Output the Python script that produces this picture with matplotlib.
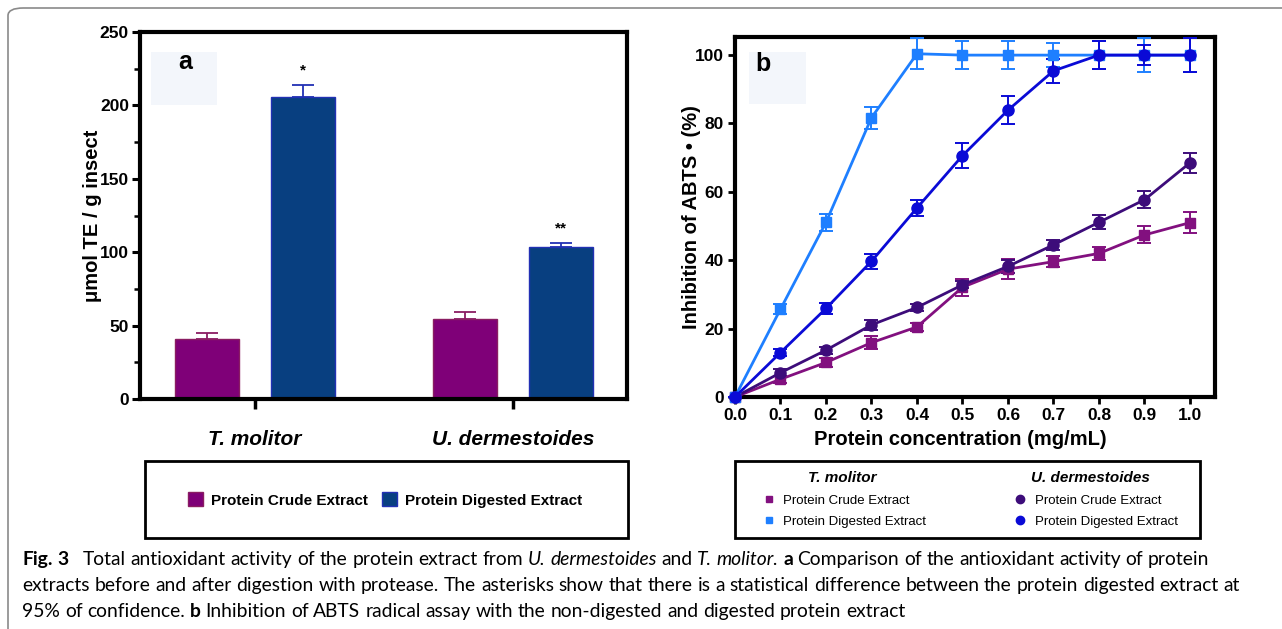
import numpy as np
import matplotlib
matplotlib.use("Agg")
import matplotlib.pyplot as plt
from matplotlib.patches import Rectangle, FancyBboxPatch
from matplotlib.lines import Line2D

# ---- data, panel a
species = ["T. molitor", "U. dermestoides"]
crude_a = [41, 54.5]
crude_a_err = [4, 4.5]
digest_a = [206, 103.5]
digest_a_err = [8, 3]
stars = ["*", "**"]

# ---- data, panel b
conc = [0.0, 0.1, 0.2, 0.3, 0.4, 0.5, 0.6, 0.7, 0.8, 0.9, 1.0]
tm_crude = [0, 5.2, 10.1, 15.9, 20.5, 32.1, 37.4, 39.6, 42.0, 47.4, 51.0]
tm_crude_err = [0, 1.0, 1.2, 2.0, 1.2, 2.5, 3.0, 1.5, 2.0, 2.5, 3.0]
tm_dig = [0, 25.7, 51.1, 81.7, 100.4, 100, 100, 100, 100, 100, 100]
tm_dig_err = [0, 1.5, 2.5, 3.2, 4.5, 4.2, 4.0, 3.6, 4.0, 5.0, 5.0]
ud_crude = [0, 7.1, 13.7, 21.1, 26.2, 32.8, 38.2, 44.5, 51.1, 57.7, 68.5]
ud_crude_err = [0, 1.0, 1.0, 1.5, 1.0, 1.0, 2.0, 1.5, 2.0, 2.5, 3.0]
ud_dig = [0, 13.0, 25.9, 39.7, 55.3, 70.6, 83.9, 95.4, 100, 100, 100]
ud_dig_err = [0, 1.0, 1.6, 2.2, 2.3, 3.6, 4.0, 3.6, 4.0, 3.0, 5.0]

SANS = "Liberation Sans"
CAP = "Lato"

W, H = 1282, 629
fig = plt.figure(figsize=(W / 100, H / 100), dpi=100)
fig.patch.set_facecolor("white")

def fx(px):
    return px / W

def fy(py):
    return 1 - py / H

# outer rounded frame
fig.patches.append(FancyBboxPatch((fx(8), fy(660)), fx(1320), fy(8) - fy(660),
                                  boxstyle="round,pad=0,rounding_size=0.012",
                                  transform=fig.transFigure, fc="none",
                                  ec="#8a8a8a", lw=1.2))

c_crude, c_dig = "#7f0078", "#083f80"
e_crude, e_dig = "#8a1d62", "#2230b4"

# ================= panel a
axa = fig.add_axes([fx(140), fy(399), fx(627 - 140), fy(32) - fy(399)])
x = np.arange(len(species))
off, bw = 0.187, 0.248
axa.bar(x - off, crude_a, bw, color=c_crude, edgecolor=e_crude, lw=1, zorder=2)
axa.bar(x + off, digest_a, bw, color=c_dig, edgecolor=e_dig, lw=1, zorder=2)
axa.errorbar(x - off, crude_a, yerr=[np.zeros(2), crude_a_err], fmt="none",
             ecolor=e_crude, elinewidth=1.3, capsize=8, capthick=1.3, zorder=1)
axa.errorbar(x + off, digest_a, yerr=[np.zeros(2), digest_a_err], fmt="none",
             ecolor=e_dig, elinewidth=1.3, capsize=8, capthick=1.3, zorder=1)
for i in range(len(species)):
    axa.text(x[i] + off, digest_a[i] + digest_a_err[i] + 5, stars[i], ha="center",
             va="bottom", fontsize=11, weight="bold", family=SANS)
axa.set_xlim(-0.446, 1.442)
axa.set_ylim(0, 250)
axa.set_yticks(np.arange(0, 251, 50))
axa.set_yticks(np.arange(25, 250, 50), minor=True)
axa.set_xticks(x)
axa.set_xticklabels(species, fontsize=15, weight="bold", style="italic", family=SANS)
axa.tick_params(axis="x", length=7, width=2.5, pad=15)
axa.tick_params(axis="y", which="major", length=6, width=2.2, labelsize=12.5, pad=2)
axa.tick_params(axis="y", which="minor", length=4, width=1.8)
for lab in axa.get_yticklabels():
    lab.set_family(SANS)
    lab.set_weight("bold")
for s in axa.spines.values():
    s.set_linewidth(3)
axa.set_ylabel("\u03bcmol TE / g insect", fontsize=14.5, weight="bold", family=SANS)
axa.yaxis.set_label_coords(-0.078, 0.5)
axa.add_patch(Rectangle((fx(151), fy(105)), fx(66), fy(52) - fy(105), transform=fig.transFigure,
                        fc="#f3f6fb", ec="none", zorder=0))
fig.text(fx(185), fy(62), "a", fontsize=18, weight="bold", family=SANS, ha="center", va="center")

# ================= panel b
axb = fig.add_axes([fx(735), fy(397), fx(1215 - 735), fy(37) - fy(397)])
series = [
    (tm_crude, tm_crude_err, "#82107f", "s", 6.5),
    (ud_crude, ud_crude_err, "#3d0c7a", "o", 8),
    (tm_dig, tm_dig_err, "#1e7fff", "s", 6.5),
    (ud_dig, ud_dig_err, "#0a0ad6", "o", 8),
]
for yv, ye, col, mk, ms in series:
    axb.errorbar(conc, yv, yerr=ye, color=col, marker=mk, ms=ms, lw=2,
                 elinewidth=1.4, capsize=5, capthick=1.4, clip_on=False, zorder=3)
axb.set_xlim(0, 1.055)
axb.set_ylim(0, 105.3)
axb.set_xticks(conc)
axb.set_xticklabels(["%.1f" % c for c in conc])
axb.set_yticks(np.arange(0, 101, 20))
axb.tick_params(length=5, width=2, labelsize=12.5, pad=3)
for lab in axb.get_xticklabels() + axb.get_yticklabels():
    lab.set_family(SANS)
    lab.set_weight("bold")
for s in axb.spines.values():
    s.set_linewidth(3)
axb.set_xlabel("Protein concentration (mg/mL)", fontsize=14.5, weight="bold", family=SANS)
axb.xaxis.set_label_coords(0.47, -0.092)
axb.set_ylabel("Inhibition of ABTS \u2022 (%)", fontsize=14.5, weight="bold", family=SANS)
axb.yaxis.set_label_coords(-0.071, 0.5)
axb.add_patch(Rectangle((fx(749), fy(104)), fx(57), fy(52) - fy(104), transform=fig.transFigure,
                        fc="#f3f6fb", ec="none", zorder=0))
fig.text(fx(763), fy(64), "b", fontsize=18, weight="bold", family=SANS, ha="center", va="center")

# ================= legend boxes
for x0, x1 in [(145, 628), (735, 1200)]:
    fig.patches.append(Rectangle((fx(x0), fy(538)), fx(x1 - x0), fy(461) - fy(538),
                                 transform=fig.transFigure, fc="none", ec="black", lw=2))

ha_a = [Rectangle((0, 0), 1, 1, fc=c_crude, ec=e_crude),
        Rectangle((0, 0), 1, 1, fc=c_dig, ec=e_dig)]
fig.legend(ha_a, ["Protein Crude Extract", "Protein Digested Extract"], loc="center",
           bbox_to_anchor=(fx(385), fy(500)), ncol=2, frameon=False,
           prop={"family": SANS, "weight": "bold", "size": 11},
           handlelength=1.0, handleheight=1.0, handletextpad=0.5, columnspacing=0.9)

hb = [Line2D([], [], ls="none", marker=s[3], color=s[2], ms=s[4] * 0.75) for s in series]
fig.legend([hb[0], hb[2], hb[1], hb[3]],
           ["Protein Crude Extract", "Protein Digested Extract",
            "Protein Crude Extract", "Protein Digested Extract"],
           loc="center", bbox_to_anchor=(fx(970), fy(511)), ncol=2, frameon=False,
           prop={"family": SANS, "size": 9.5}, handlelength=1, handletextpad=0.6,
           columnspacing=6.6, labelspacing=0.65)
fig.text(fx(842), fy(478), "T. molitor", fontsize=11, weight="bold", style="italic",
         family=SANS, ha="center", va="center")
fig.text(fx(1090), fy(478), "U. dermestoides", fontsize=11, weight="bold", style="italic",
         family=SANS, ha="center", va="center")

# ================= caption, placed word by word so the styles can mix
renderer = fig.canvas.get_renderer()

def advance(s, size, style, weight):
    # width of s including trailing space, measured against a bar glyph
    t1 = fig.text(0, 0, s + "|", fontsize=size, family=CAP, style=style, weight=weight)
    t2 = fig.text(0, 0, "|", fontsize=size, family=CAP, style=style, weight=weight)
    w = t1.get_window_extent(renderer).width - t2.get_window_extent(renderer).width
    t1.remove(); t2.remove()
    return w

N, I, B = ("normal", "normal"), ("italic", "normal"), ("normal", "bold")
cap_lines = [
    [("Fig. 3", B), (" ", N), ("Total antioxidant activity of the protein extract from", N),
     ("U. dermestoides", I), ("and", N), ("T. molitor.", I), ("a", B),
     ("Comparison of the antioxidant activity of protein", N)],
    [("extracts before and after digestion with protease. The asterisks show that there "
      "is a statistical difference between the protein digested extract at", N)],
    [("95% of confidence.", N), ("b", B),
     ("Inhibition of ABTS radical assay with the non-digested and digested protein extract", N)],
]

cap_size = 12 * 1214 / advance(cap_lines[1][0][0], 12, "normal", "normal")
for k, runs in enumerate(cap_lines):
    cur = 22
    for txt, (style, weight) in runs:
        for w in txt.split(" "):
            if w:
                fig.text(fx(cur), fy(565 + 26 * k), w, fontsize=cap_size, family=CAP,
                         style=style, weight=weight, va="baseline")
            cur += advance(w + " ", cap_size, style, weight)

fig.savefig("out.png", dpi=100, facecolor="white")
